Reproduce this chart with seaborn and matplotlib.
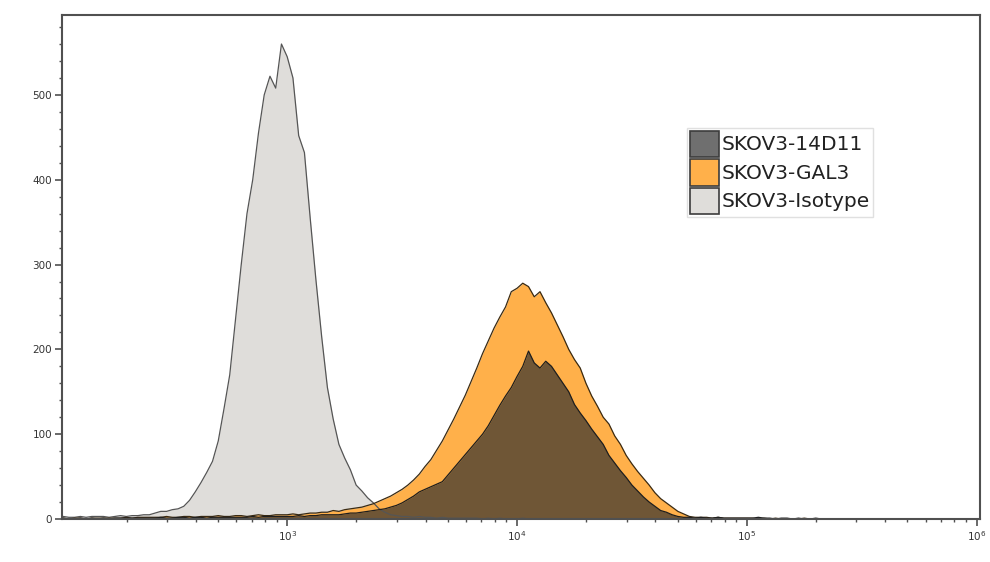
import numpy as np
import pandas as pd
import matplotlib.pyplot as plt
import seaborn as sns
from matplotlib.patches import Patch
from matplotlib.ticker import FixedLocator, LogLocator, MultipleLocator, NullFormatter

# Histogram bins: log10 of fluorescence, 0.025 decade wide, starting at 10^2
log_start = 2.0
log_step = 0.025

# counts per bin (rows of 8 bins = 0.2 decade)
isotype_counts = [
    2, 3, 2, 2, 3, 2, 3, 3,
    3, 2, 3, 4, 3, 4, 4, 5,
    5, 7, 9, 9, 11, 12, 15, 22,
    32, 43, 55, 68, 92, 130, 170, 235,
    300, 360, 400, 455, 500, 522, 508, 560,
    545, 520, 452, 432, 355, 282, 215, 155,
    118, 88, 72, 58, 40, 33, 25, 19,
    12, 8, 5, 4, 3, 3, 2, 3,
    2, 2, 1, 2, 1, 1, 1, 1,
    1, 1, 0, 1, 0, 1, 0, 0,
    0, 1, 0, 0, 0, 0, 0, 0,
    0, 0, 0, 0, 0, 0, 0, 0,
    0, 0, 0, 0, 0, 0, 0, 0,
    0, 0, 0, 0, 0, 0, 0, 0,
    0, 0, 0, 0, 0, 0, 0, 0,
    0, 0, 0, 0, 0, 0, 0, 0,
    0, 0, 0, 0, 0, 0, 0, 0,
    0, 0, 0, 0, 0, 0, 0, 0,
]

gal3_counts = [
    0, 1, 0, 1, 1, 0, 1, 1,
    1, 1, 1, 1, 2, 1, 2, 2,
    2, 2, 2, 3, 2, 2, 3, 3,
    2, 3, 3, 3, 4, 3, 3, 4,
    4, 3, 4, 5, 4, 4, 5, 5,
    5, 6, 5, 6, 7, 7, 8, 8,
    10, 9, 11, 12, 13, 14, 16, 18,
    21, 24, 27, 31, 35, 40, 46, 53,
    62, 70, 81, 92, 105, 118, 132, 146,
    162, 178, 195, 210, 225, 238, 250, 268,
    272, 278, 274, 262, 268, 255, 243, 229,
    215, 200, 188, 178, 160, 145, 133, 120,
    112, 98, 88, 75, 65, 56, 48, 40,
    31, 24, 19, 14, 9, 6, 3, 2,
    2, 2, 1, 2, 1, 1, 1, 1,
    1, 1, 0, 1, 0, 1, 0, 0,
    0, 0, 1, 0, 0, 0, 0, 0,
    0, 0, 0, 0, 0, 0, 0, 0,
]

d14d11_counts = [
    0, 1, 0, 0, 1, 0, 1, 0,
    1, 0, 1, 1, 1, 1, 1, 1,
    1, 1, 2, 1, 1, 2, 2, 1,
    2, 2, 1, 2, 2, 2, 2, 2,
    2, 2, 3, 2, 3, 3, 3, 3,
    3, 3, 4, 3, 4, 4, 5, 5,
    5, 5, 6, 7, 7, 8, 9, 10,
    11, 12, 14, 16, 19, 23, 27, 32,
    35, 38, 41, 44, 52, 60, 68, 76,
    84, 92, 100, 110, 122, 134, 145, 155,
    168, 180, 198, 184, 178, 186, 180, 170,
    160, 150, 135, 125, 116, 106, 97, 88,
    75, 66, 57, 49, 40, 33, 26, 20,
    15, 10, 8, 5, 3, 2, 2, 1,
    2, 1, 1, 2, 1, 1, 1, 1,
    1, 1, 2, 1, 1, 0, 1, 1,
    0, 1, 0, 0, 1, 0, 0, 0,
    0, 0, 0, 0, 0, 0, 0, 0,
]

# drawing order: isotype at the back, 14D11 on top
samples = ['SKOV3-Isotype', 'SKOV3-GAL3', 'SKOV3-14D11']
legend_order = ['SKOV3-14D11', 'SKOV3-GAL3', 'SKOV3-Isotype']
counts = {
    'SKOV3-Isotype': isotype_counts,
    'SKOV3-GAL3': gal3_counts,
    'SKOV3-14D11': d14d11_counts,
}

fill_colors = {
    'SKOV3-Isotype': (0.875, 0.867, 0.855, 1.0),
    'SKOV3-GAL3': (1.0, 0.69, 0.29, 1.0),
    'SKOV3-14D11': (0.18, 0.18, 0.18, 0.69),
}
edge_colors = {
    'SKOV3-Isotype': '#555555',
    'SKOV3-GAL3': '#3a2a12',
    'SKOV3-14D11': '#1e1e1e',
}

frames = []
for name in samples:
    n = len(counts[name])
    log_fl = log_start + log_step * np.arange(n)
    frames.append(pd.DataFrame({'fl': 10 ** log_fl, 'count': counts[name], 'sample': name}))
df = pd.concat(frames, ignore_index=True)

sns.set_style('ticks')
plt.rcParams['font.family'] = ['DejaVu Sans']

fig, ax = plt.subplots(figsize=(9.9, 5.62), dpi=100)
fig.subplots_adjust(left=0.0626, right=0.99, bottom=0.0765, top=0.973)

for name in samples:
    sub = df[df['sample'] == name]
    ax.fill_between(sub['fl'], 0, sub['count'], color=fill_colors[name], linewidth=0)
    sns.lineplot(data=sub, x='fl', y='count', color=edge_colors[name],
                 linewidth=0.9, estimator=None, legend=False, ax=ax)

ax.set_xscale('log')
ax.set_xlim(10 ** 2.02, 10 ** 6.015)
ax.set_ylim(0, 594)
ax.set_xlabel('')
ax.set_ylabel('')

ax.xaxis.set_major_locator(FixedLocator([1e3, 1e4, 1e5, 1e6]))
ax.xaxis.set_minor_locator(LogLocator(base=10, subs=np.arange(2, 10)))
ax.xaxis.set_minor_formatter(NullFormatter())
ax.yaxis.set_major_locator(MultipleLocator(100))
ax.yaxis.set_minor_locator(MultipleLocator(20))

for side in ['top', 'right', 'left', 'bottom']:
    ax.spines[side].set_visible(True)
    ax.spines[side].set_color('#505050')
    ax.spines[side].set_linewidth(1.5)

ax.tick_params(which='major', direction='out', length=5, width=1.2,
               color='#505050', labelsize=7.5, labelcolor='#333333', pad=2)
ax.tick_params(which='minor', direction='out', length=2.5, width=1.0, color='#505050')

handles = [Patch(facecolor=fill_colors[n], edgecolor='#3c3c3c', linewidth=1.2) for n in legend_order]
leg = ax.legend(handles, legend_order, loc='upper left', bbox_to_anchor=(0.681, 0.777),
                borderaxespad=0, fontsize=14.5, handlelength=1.45, handleheight=1.65,
                handletextpad=0.12, labelspacing=0.1, borderpad=0.15,
                frameon=True, fancybox=False, edgecolor='#e0e0e0', framealpha=1)
for t in leg.get_texts():
    t.set_color('#222222')

plt.savefig('out.png', dpi=100)
